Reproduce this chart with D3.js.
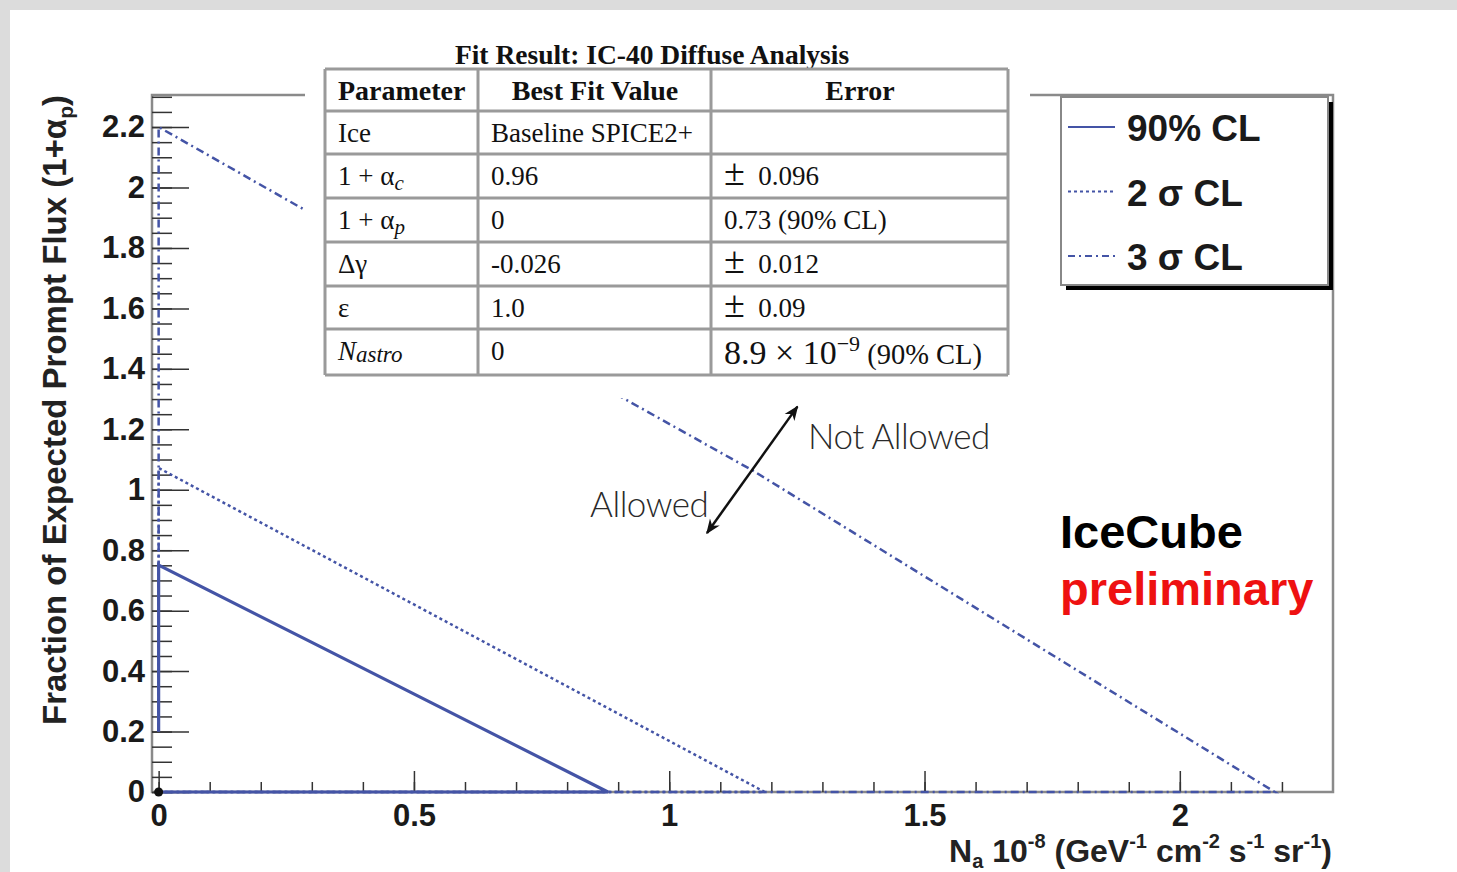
<!DOCTYPE html>
<html>
<head>
<meta charset="utf-8">
<script src="https://cdn.jsdelivr.net/npm/d3@7"></script>
<style>
body { margin: 0; background: #dcdcdc; }
svg { display: block; }
</style>
</head>
<body>
<div id="chart"></div>
<script>
// Axis ticks
var xMajorTicks = [0, 0.5, 1, 1.5, 2];
var yMajorTicks = [0, 0.2, 0.4, 0.6, 0.8, 1, 1.2, 1.4, 1.6, 1.8, 2, 2.2];

// Contour lines [N_a, 1+alpha_p]
var contour90 = [[0, 0.2], [0, 0.751], [0.30, 0.495], [0.88, 0], [0, 0]];
var contour2s = [[0, 0.2], [0, 1.072], [1.187, 0], [0, 0]];
var contour3s = [[0, 0.2], [0, 2.2], [0.287, 1.925], [0.913, 1.30], [1.162, 1.065], [2.186, 0], [0, 0]];
var bestFit = [[0, 0]];

// Legend
var legendLabels = ["90% CL", "2 \u03c3 CL", "3 \u03c3 CL"];

// Fit result table
var tableTitle = "Fit Result: IC-40 Diffuse Analysis";
var tableHeader = ["Parameter", "Best Fit Value", "Error"];
var tableValues = ["Baseline SPICE2+", "0.96", "0", "-0.026", "1.0", "0"];

// Define svg area
var svgWidth = 1457;
var svgHeight = 872;

var frame = { left: 152, right: 1333, top: 95, bottom: 792 };

var svg = d3.select("#chart")
    .append("svg")
    .attr("width", svgWidth)
    .attr("height", svgHeight);

// white panel on grey page
svg.append("rect")
    .attr("x", 10).attr("y", 10)
    .attr("width", svgWidth - 10).attr("height", svgHeight - 10)
    .attr("fill", "#fff");

var xScale = d3.scaleLinear()
    .domain([-0.013, 2.3])
    .range([frame.left, frame.right]);

var yScale = d3.scaleLinear()
    .domain([0, 2.306])
    .range([frame.bottom, frame.top]);

var sans = "'Liberation Sans', Arial, sans-serif";
var serif = "'Liberation Serif', 'Times New Roman', serif";
var blue = "#4454a6";

// frame
svg.append("rect")
    .attr("x", frame.left).attr("y", frame.top)
    .attr("width", frame.right - frame.left)
    .attr("height", frame.bottom - frame.top)
    .attr("fill", "none")
    .attr("stroke", "#8a8a8a")
    .attr("stroke-width", 2.5);

// x axis (ticks pointing into the frame)
var xMinor = svg.append("g")
    .attr("transform", `translate(0, ${frame.bottom})`)
    .call(d3.axisBottom(xScale).tickValues(d3.range(0, 2.25, 0.1)).tickSize(-10).tickFormat(""));
var xMajor = svg.append("g")
    .attr("transform", `translate(0, ${frame.bottom})`)
    .call(d3.axisBottom(xScale).tickValues(xMajorTicks).tickSize(-21).tickPadding(12).tickFormat(d3.format("")));

// y axis
var yMinor = svg.append("g")
    .attr("transform", `translate(${frame.left}, 0)`)
    .call(d3.axisLeft(yScale).tickValues(d3.range(0, 2.31, 0.05)).tickSize(-20).tickFormat(""));
var yMajor = svg.append("g")
    .attr("transform", `translate(${frame.left}, 0)`)
    .call(d3.axisLeft(yScale).tickValues(yMajorTicks).tickSize(-37).tickPadding(7).tickFormat(d3.format("")));

[xMinor, xMajor, yMinor, yMajor].forEach(function(g) {
    g.select(".domain").remove();
    g.selectAll(".tick line").attr("stroke", "#333").attr("stroke-width", 1.5);
    g.selectAll(".tick text")
        .style("font-family", sans)
        .style("font-size", "31px")
        .style("font-weight", "bold")
        .style("fill", "#1a1a1a");
});

// contour lines
var line = d3.line()
    .x(d => xScale(d[0]))
    .y(d => yScale(d[1]));

svg.append("path")
    .datum(contour3s)
    .attr("d", line)
    .attr("fill", "none")
    .attr("stroke", blue)
    .attr("stroke-width", 2.5)
    .attr("stroke-dasharray", "8,4,2,4");

svg.append("path")
    .datum(contour2s)
    .attr("d", line)
    .attr("fill", "none")
    .attr("stroke", blue)
    .attr("stroke-width", 2.5)
    .attr("stroke-dasharray", "3,3");

svg.append("path")
    .datum(contour90)
    .attr("d", line)
    .attr("fill", "none")
    .attr("stroke", blue)
    .attr("stroke-width", 3.2);

svg.selectAll("circle.best")
    .data(bestFit)
    .enter()
    .append("circle")
    .attr("class", "best")
    .attr("cx", d => xScale(d[0]))
    .attr("cy", d => yScale(d[1]))
    .attr("r", 4.5)
    .attr("fill", "#111");

// helper for text with sub/superscripts
function rich(text, parts) {
    parts.forEach(function(p) {
        var t = text.append("tspan").text(p.t);
        if (p.dy) t.attr("dy", p.dy);
        if (p.size) t.style("font-size", p.size + "px");
        if (p.italic) t.style("font-style", "italic");
    });
    return text;
}

// axis titles
rich(svg.append("text")
    .attr("transform", "translate(66, 410) rotate(-90)")
    .attr("text-anchor", "middle")
    .style("font-family", sans)
    .style("font-size", "33px")
    .style("font-weight", "bold")
    .style("fill", "#222"),
    [{ t: "Fraction of Expected Prompt Flux (1+\u03b1" },
     { t: "p", size: 21, dy: 7 },
     { t: ")", dy: -7 }]);

rich(svg.append("text")
    .attr("x", 1332)
    .attr("y", 862)
    .attr("text-anchor", "end")
    .style("font-family", sans)
    .style("font-size", "32px")
    .style("font-weight", "bold")
    .style("fill", "#222"),
    [{ t: "N" }, { t: "a", size: 20, dy: 6 },
     { t: " 10", dy: -6 }, { t: "-8", size: 20, dy: -14 },
     { t: " (GeV", dy: 14 }, { t: "-1", size: 20, dy: -14 },
     { t: " cm", dy: 14 }, { t: "-2", size: 20, dy: -14 },
     { t: " s", dy: 14 }, { t: "-1", size: 20, dy: -14 },
     { t: " sr", dy: 14 }, { t: "-1", size: 20, dy: -14 },
     { t: ")", dy: 14 }]);

// Allowed / Not Allowed annotation (in data units)
var arrowFrom = [1.074, 0.857];
var arrowTo = [1.251, 1.275];

var defs = svg.append("defs");
defs.append("marker")
    .attr("id", "head")
    .attr("viewBox", "0 0 10 10")
    .attr("refX", 9).attr("refY", 5)
    .attr("markerWidth", 6).attr("markerHeight", 6)
    .attr("orient", "auto-start-reverse")
    .append("path")
    .attr("d", "M0,1 L10,5 L0,9 L3,5 Z")
    .attr("fill", "#111");

svg.append("line")
    .attr("x1", xScale(arrowFrom[0])).attr("y1", yScale(arrowFrom[1]))
    .attr("x2", xScale(arrowTo[0])).attr("y2", yScale(arrowTo[1]))
    .attr("stroke", "#111")
    .attr("stroke-width", 2.5)
    .attr("marker-start", "url(#head)")
    .attr("marker-end", "url(#head)");

svg.append("text")
    .attr("x", xScale(1.272)).attr("y", yScale(1.135))
    .style("font-family", "Lato, 'Open Sans', sans-serif")
    .style("font-weight", 300)
    .style("font-size", "35px")
    .style("letter-spacing", "-0.5px")
    .style("fill", "#2a2a2a")
    .text("Not Allowed");

svg.append("text")
    .attr("x", xScale(0.845)).attr("y", yScale(0.91))
    .style("font-family", "Lato, 'Open Sans', sans-serif")
    .style("font-weight", 300)
    .style("font-size", "35px")
    .style("letter-spacing", "-0.5px")
    .style("fill", "#2a2a2a")
    .text("Allowed");

// IceCube preliminary
svg.append("text")
    .attr("x", 1060).attr("y", 548)
    .style("font-family", sans)
    .style("font-size", "47px")
    .style("font-weight", "bold")
    .style("fill", "#000")
    .text("IceCube");

svg.append("text")
    .attr("x", 1060).attr("y", 605)
    .style("font-family", sans)
    .style("font-size", "47px")
    .style("font-weight", "bold")
    .style("fill", "#ee1111")
    .text("preliminary");

// legend
var legend = svg.append("g");
legend.append("rect")
    .attr("x", 1066).attr("y", 102)
    .attr("width", 267).attr("height", 188)
    .attr("fill", "#000");
legend.append("rect")
    .attr("x", 1061).attr("y", 97)
    .attr("width", 267).attr("height", 188)
    .attr("fill", "#fff")
    .attr("stroke", "#888")
    .attr("stroke-width", 2);

var legendDash = [null, "3,3", "7,4,2,4"];
legendLabels.forEach(function(lab, i) {
    var yy = 127 + i * 64.5;
    legend.append("line")
        .attr("x1", 1068).attr("x2", 1115)
        .attr("y1", yy).attr("y2", yy)
        .attr("stroke", blue)
        .attr("stroke-width", i === 0 ? 2 : 2.2)
        .attr("stroke-dasharray", legendDash[i]);
    legend.append("text")
        .attr("x", 1127).attr("y", yy + 14)
        .style("font-family", sans)
        .style("font-size", "37px")
        .style("font-weight", "bold")
        .style("fill", "#1a1a1a")
        .text(lab);
});

// fit result table
var colX = [325, 478, 711, 1008];
var rowY = [69, 111, 154, 198, 242, 286, 329, 375];
var table = svg.append("g").style("font-family", serif).style("fill", "#111");

// white backing of the pasted table hides frame and curves behind it
table.append("rect")
    .attr("x", 305).attr("y", 30)
    .attr("width", 725).attr("height", 368)
    .attr("fill", "#fff");

table.append("text")
    .attr("x", 652).attr("y", 64)
    .attr("text-anchor", "middle")
    .style("font-size", "27.5px")
    .style("font-weight", "bold")
    .text(tableTitle);

rowY.forEach(function(y) {
    table.append("line")
        .attr("x1", colX[0]).attr("x2", colX[3])
        .attr("y1", y).attr("y2", y)
        .attr("stroke", "#9a9a9a").attr("stroke-width", 3);
});
colX.forEach(function(x) {
    table.append("line")
        .attr("x1", x).attr("x2", x)
        .attr("y1", rowY[0]).attr("y2", rowY[7])
        .attr("stroke", "#9a9a9a").attr("stroke-width", 3);
});

var headerX = [338, 595, 860];
tableHeader.forEach(function(h, i) {
    table.append("text")
        .attr("x", headerX[i]).attr("y", 100)
        .attr("text-anchor", i === 0 ? "start" : "middle")
        .style("font-size", "28px")
        .style("font-weight", "bold")
        .text(h);
});

var paramParts = [
    [{ t: "Ice" }],
    [{ t: "1 + \u03b1" }, { t: "c", italic: true, size: 21, dy: 5 }],
    [{ t: "1 + \u03b1" }, { t: "p", italic: true, size: 21, dy: 5 }],
    [{ t: "\u0394\u03b3" }],
    [{ t: "\u03b5" }],
    [{ t: "N", italic: true }, { t: "astro", italic: true, size: 23, dy: 2 }]
];
var errorParts = [
    [],
    [{ t: "\u00b1", size: 38 }, { t: "  0.096" }],
    [{ t: "0.73 (90% CL)" }],
    [{ t: "\u00b1", size: 38 }, { t: "  0.012" }],
    [{ t: "\u00b1", size: 38 }, { t: "  0.09" }],
    [{ t: "8.9 \u00d7 10", size: 34 }, { t: "\u22129", size: 22, dy: -13 }, { t: " (90% CL)", size: 28.5, dy: 13 }]
];

tableValues.forEach(function(v, i) {
    var base = rowY[i + 1] + 31;
    rich(table.append("text").attr("x", 338).attr("y", base).style("font-size", "27px"), paramParts[i]);
    table.append("text").attr("x", 491).attr("y", base).style("font-size", "27px").text(v);
    rich(table.append("text").attr("x", 724).attr("y", base + (i === 5 ? 4 : 0)).style("font-size", "27px").style("white-space", "pre"), errorParts[i]);
});
</script>
</body>
</html>
